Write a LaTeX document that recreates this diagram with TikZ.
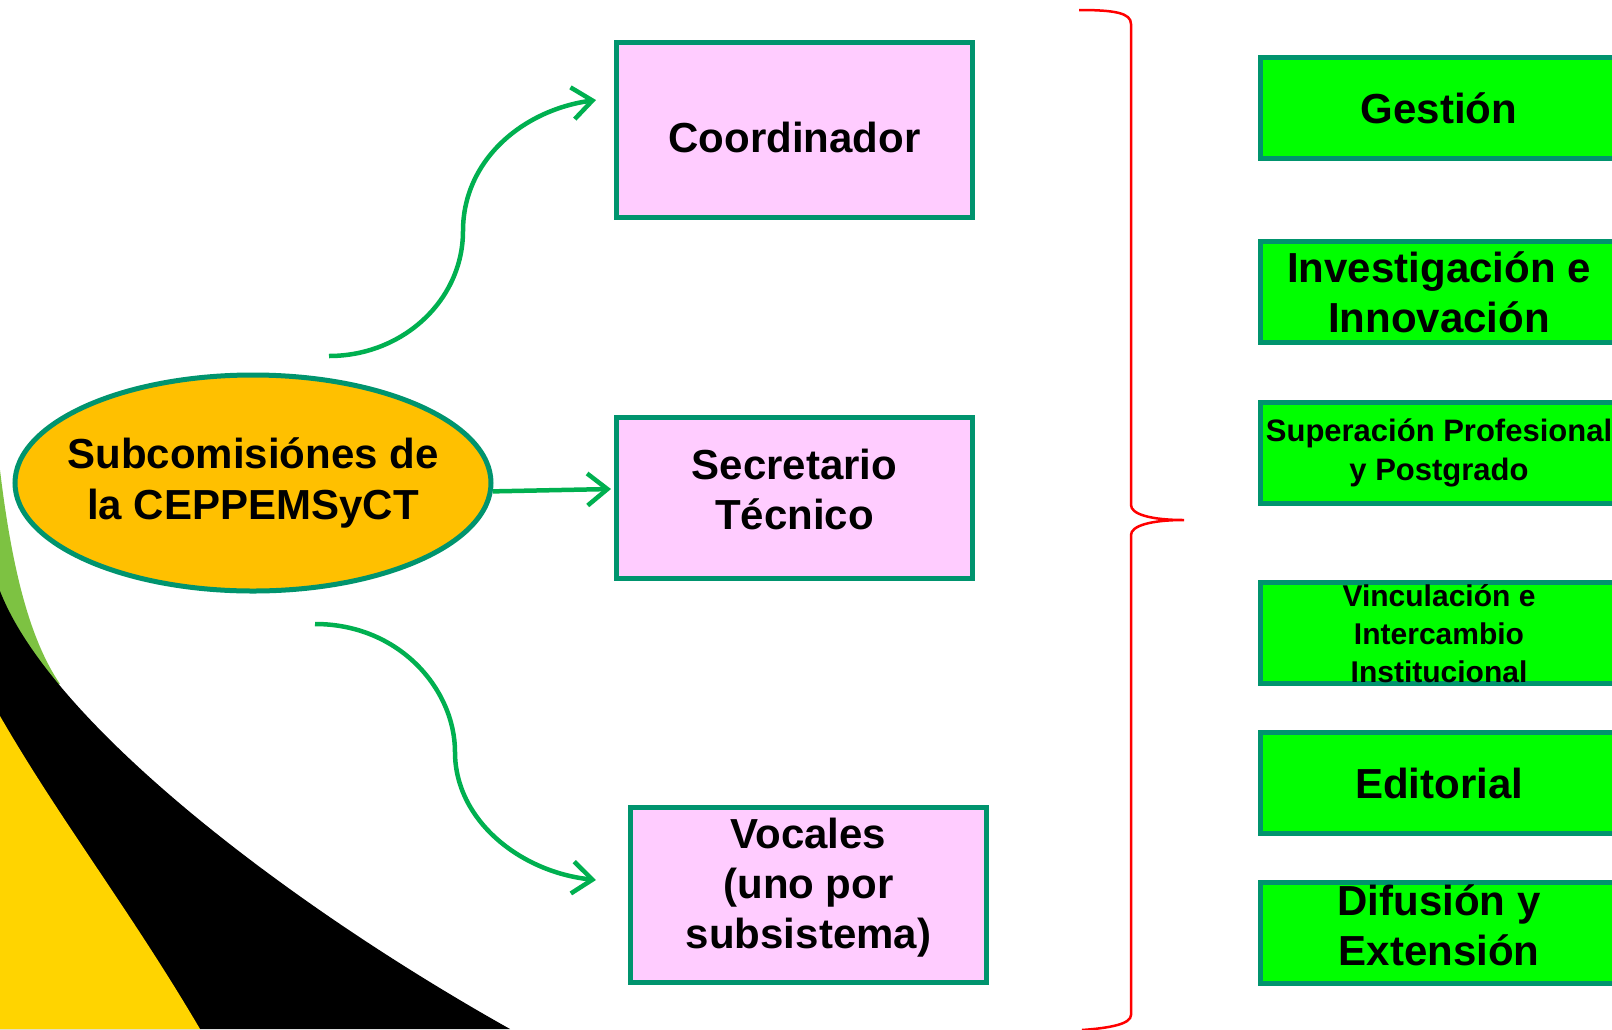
\documentclass[tikz,border=0pt]{standalone}
\usepackage{fontspec}
\setmainfont{Liberation Sans}
\usetikzlibrary{arrows.meta,shapes.geometric}
\definecolor{borde}{HTML}{00946E}
\definecolor{rosa}{HTML}{FFCCFF}
\definecolor{verdecaja}{HTML}{00FF00}
\definecolor{naranja}{HTML}{FFC000}
\definecolor{flecha}{HTML}{00B050}
\definecolor{amarillo}{HTML}{FFD400}
\definecolor{hoja}{HTML}{7DC242}
\definecolor{rojo}{HTML}{FF0000}

\begin{document}
\begin{tikzpicture}[x=1pt,y=-1pt,
		cargo/.style={draw=borde,line width=5.5pt,fill=rosa,minimum width=356pt,inner sep=0pt,align=center,font=\fontsize{42}{50}\selectfont\bfseries},
		comision/.style={draw=borde,line width=5.5pt,fill=verdecaja,minimum width=357pt,minimum height=101pt,inner sep=0pt,align=center},
		flechaverde/.style={draw=flecha,line width=4.5pt,-{Straight Barb[length=20pt,width=32pt,line width=4.5pt]}}]
			\useasboundingbox (0,0) rectangle (1612,1029);
			\clip (0,0) rectangle (1612,1029);
			\fill[white] (0,0) rectangle (1612,1029);
			\fill[hoja] (0,470) .. controls (12,570) and (30,640) .. (60,684) -- (0,700) -- cycle;
			\fill[black] (0,591) .. controls (50,720) and (280,900) .. (510,1029) -- (0,1029) -- cycle;
			\fill[amarillo] (0,716) .. controls (60,820) and (130,910) .. (200,1029) -- (0,1029) -- cycle;
			\node[ellipse,draw=borde,line width=5pt,fill=naranja,minimum width=476pt,minimum height=216pt,inner xsep=-120pt,inner ysep=-40pt,align=center,font=\fontsize{42}{51}\selectfont\bfseries] (sub) at (253,483) {Subcomisiónes de\\la CEPPEMSyCT};
			\node[cargo,minimum height=175pt,text height=45pt] (coord) at (794.5,130) {Coordinador};
			\node[cargo,minimum height=161pt,text depth=18pt] (secre) at (794.5,498) {Secretario\\Técnico};
			\node[cargo,minimum height=175pt,text depth=23pt] (vocal) at (808.5,895) {Vocales\\(uno por\\subsistema)};
			\foreach \n/\y/\fs/\bs/\td/\txt in {1/108/42/50/0/Gestión, 2/292/42/50/0/{Investigación e\\Innovación}, 3/453/31/39/7/{Superación Profesional\\y Postgrado}, 4/633/30/38/0/{Vinculación e\\Intercambio\\Institucional}, 5/783/42/50/0/Editorial, 6/933/42/50/16/{Difusión y\\Extensión}} {
				\node[comision,font=\fontsize{\fs}{\bs}\selectfont\bfseries,text depth=\td pt] (g\n) at (1439,\y) {\txt};
			}
			\coordinate (a1) at (329,356);
			\coordinate (p1) at (596,100);
			\coordinate (p2) at (611,489);
			\coordinate (a3) at (315,624);
			\coordinate (p3) at (596,880);
			\draw[flechaverde] (a1) .. controls (403,356) and (463,300) .. (463,231) .. controls (463,160) and (523,110) .. (p1);
			\draw[flechaverde] (sub.-2) -- (p2);
			\draw[flechaverde] (a3) .. controls (400,624) and (455,690) .. (455,752) .. controls (455,820) and (520,872) .. (p3);
			\draw[rojo,line width=2.5pt] (1079,10) .. controls (1115,10) and (1131,13) .. (1131,24) -- (1131,505) .. controls (1131,514) and (1150,520) .. (1184,520) .. controls (1150,520) and (1131,526) .. (1131,535) -- (1131,1015) .. controls (1131,1024) and (1110,1028) .. (1082,1030);
		\end{tikzpicture}
\end{document}
